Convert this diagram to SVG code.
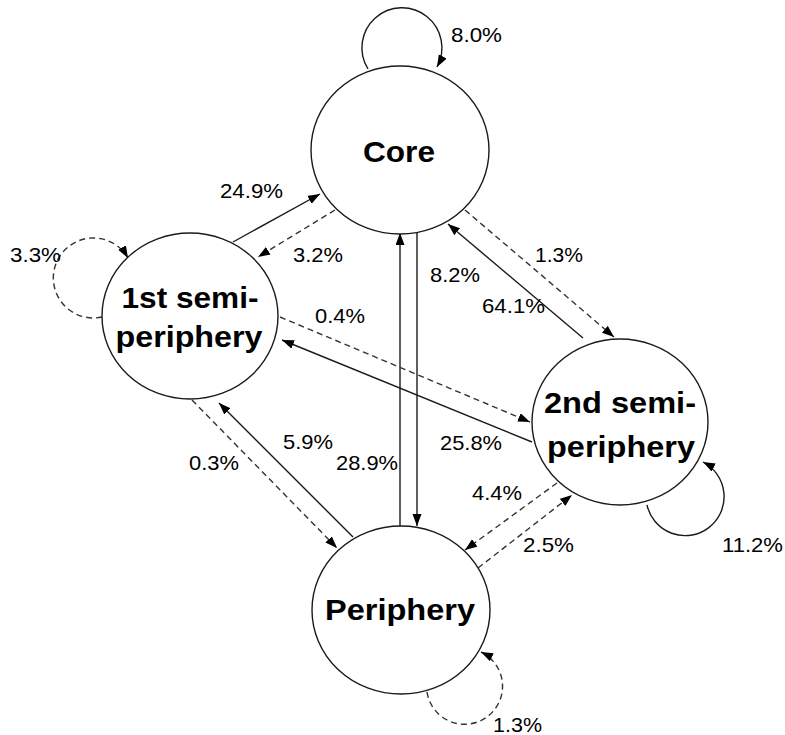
<svg xmlns="http://www.w3.org/2000/svg" width="785" height="735" viewBox="0 0 785 735">
<style>
.node{fill:#fff;stroke:#1a1a1a;stroke-width:1.4}
.nl{font-family:"Liberation Sans",Arial,sans-serif;font-weight:bold;font-size:30px;fill:#000;text-anchor:middle}
.pl{font-family:"Liberation Sans",Arial,sans-serif;font-size:21px;fill:#000}
.s{fill:none;stroke:#1a1a1a;stroke-width:1.4;marker-end:url(#ah)}
.d{fill:none;stroke:#333;stroke-width:1.4;stroke-dasharray:6 4;marker-end:url(#ah)}
</style>
<defs>
<marker id="ah" markerUnits="userSpaceOnUse" markerWidth="13" markerHeight="10" refX="12" refY="4.5" orient="auto">
<path d="M0,0 L12,4.5 L0,9 z" fill="#000"/>
</marker>
</defs>
<rect width="785" height="735" fill="#fff"/>
<g id="connectors">
<path class="s" d="M368,69 A40,40 0 1 1 437,67"/>
<path class="d" d="M102,317 A40,40 0 1 1 128,258"/>
<path class="s" d="M647,505 A39,39 0 1 0 703,462"/>
<path class="d" d="M427,692 A38,38 0 1 0 481,652"/>
<path class="s" d="M233,242 L320,194"/>
<path class="d" d="M335,210 L258,257"/>
<path class="d" d="M465,210 L614,337"/>
<path class="s" d="M583,338 L448,224"/>
<path class="s" d="M400,526 L400,233"/>
<path class="s" d="M417,233 L417,526"/>
<path class="d" d="M280,317 L530,422"/>
<path class="s" d="M532,442 L282,340"/>
<path class="d" d="M192,400 L337,548"/>
<path class="s" d="M353,537 L219,403"/>
<path class="d" d="M557,483 L465,550"/>
<path class="d" d="M478,568 L572,495"/>
</g>
<g id="core">
<ellipse class="node" cx="400" cy="150" rx="89" ry="84"/>
<text class="nl" x="399" y="162" textLength="72" lengthAdjust="spacingAndGlyphs">Core</text>
</g>
<g id="first-semi-periphery">
<ellipse class="node" cx="190" cy="316" rx="88" ry="83"/>
<text class="nl" x="190" y="308" textLength="137" lengthAdjust="spacingAndGlyphs">1st semi-</text>
<text class="nl" x="189" y="347" textLength="147" lengthAdjust="spacingAndGlyphs">periphery</text>
</g>
<g id="second-semi-periphery">
<ellipse class="node" cx="620" cy="422" rx="88" ry="83"/>
<text class="nl" x="620" y="413" textLength="152" lengthAdjust="spacingAndGlyphs">2nd semi-</text>
<text class="nl" x="621" y="457" textLength="148" lengthAdjust="spacingAndGlyphs">periphery</text>
</g>
<g id="periphery">
<ellipse class="node" cx="401" cy="610" rx="89" ry="84"/>
<text class="nl" x="400" y="620" textLength="150" lengthAdjust="spacingAndGlyphs">Periphery</text>
</g>
<g id="labels">
<text class="pl" x="451" y="42" textLength="51" lengthAdjust="spacingAndGlyphs">8.0%</text>
<text class="pl" x="220" y="198" textLength="63" lengthAdjust="spacingAndGlyphs">24.9%</text>
<text class="pl" x="10" y="262" textLength="51" lengthAdjust="spacingAndGlyphs">3.3%</text>
<text class="pl" x="293" y="262" textLength="50" lengthAdjust="spacingAndGlyphs">3.2%</text>
<text class="pl" x="535" y="262" textLength="48" lengthAdjust="spacingAndGlyphs">1.3%</text>
<text class="pl" x="430" y="282" textLength="50" lengthAdjust="spacingAndGlyphs">8.2%</text>
<text class="pl" x="482" y="313" textLength="63" lengthAdjust="spacingAndGlyphs">64.1%</text>
<text class="pl" x="315" y="323" textLength="50" lengthAdjust="spacingAndGlyphs">0.4%</text>
<text class="pl" x="440" y="450" textLength="62" lengthAdjust="spacingAndGlyphs">25.8%</text>
<text class="pl" x="283" y="449" textLength="50" lengthAdjust="spacingAndGlyphs">5.9%</text>
<text class="pl" x="189" y="470" textLength="50" lengthAdjust="spacingAndGlyphs">0.3%</text>
<text class="pl" x="336" y="470" textLength="62" lengthAdjust="spacingAndGlyphs">28.9%</text>
<text class="pl" x="472" y="500" textLength="50" lengthAdjust="spacingAndGlyphs">4.4%</text>
<text class="pl" x="523" y="552" textLength="51" lengthAdjust="spacingAndGlyphs">2.5%</text>
<text class="pl" x="722" y="552" textLength="61" lengthAdjust="spacingAndGlyphs">11.2%</text>
<text class="pl" x="493" y="732" textLength="49" lengthAdjust="spacingAndGlyphs">1.3%</text>
</g>
</svg>
